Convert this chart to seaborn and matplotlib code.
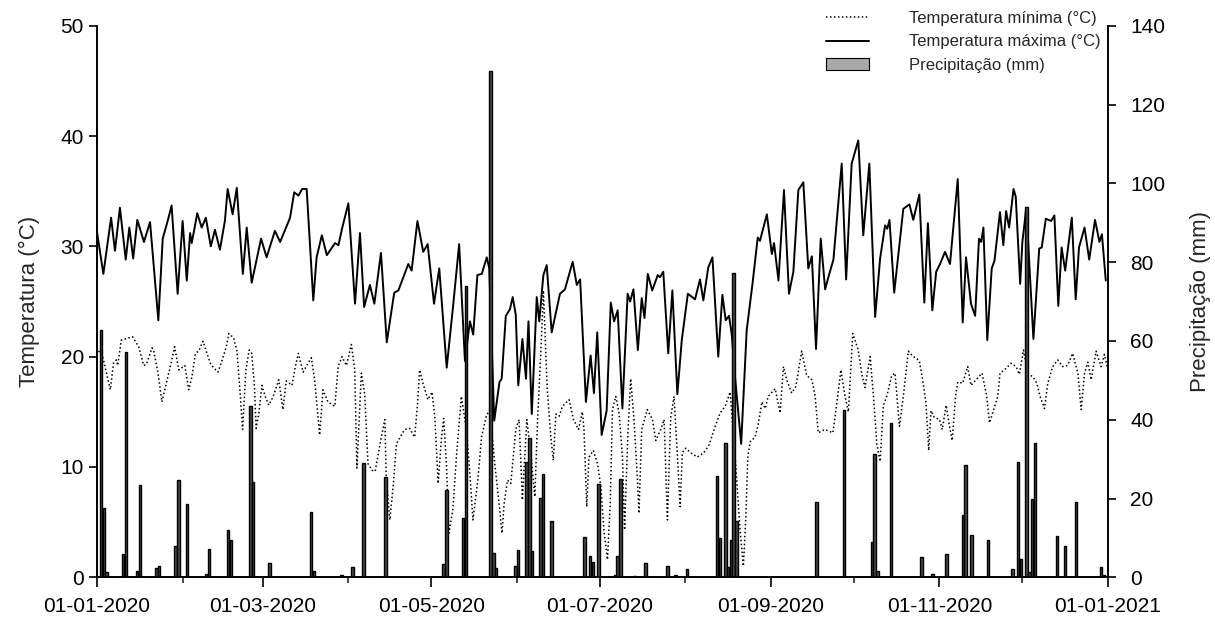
import pandas as pd
import matplotlib
matplotlib.use('Agg')
import matplotlib.pyplot as plt
import matplotlib.dates as mdates
from matplotlib.patches import Patch
from matplotlib.lines import Line2D
import seaborn as sns

# day offsets are counted from 01-01-2020
tmax_day = [0, 2.3, 5.1, 6.5, 8.3, 10.4, 11.7, 13.1, 14.6, 17.0, 19.2, 22.2, 23.8, 25.8, 27.0, 29.2,
            31.0, 32.5, 33.7, 34.3, 36.3, 37.9, 39.4, 41.2, 42.7, 44.5, 46.3, 47.3, 49.1, 50.6, 52.8,
            54.2, 56.0, 59.4, 61.4, 64.4, 66.3, 69.9, 71.4, 72.9, 74.3, 75.9, 78.3, 79.5, 81.4, 83.2,
            86.2, 87.4, 88.8, 91.0, 93.4, 95.2, 96.7, 98.8, 100.4, 102.8, 104.9, 107.6, 109.1, 112.7,
            113.9, 116.0, 118.1, 119.7, 122.0, 123.9, 126.6, 129.0, 131.1, 133.2, 135.0, 136.2, 137.7,
            139.3, 141.1, 142.0, 143.8, 145.7, 146.5, 148.0, 149.5, 150.5, 151.6, 152.5, 154.0, 155.3,
            156.2, 157.4, 159.2, 160.1, 161.6, 162.8, 164.6, 167.6, 169.4, 172.2, 173.7, 174.9, 177.0,
            178.7, 179.9, 181.1, 182.7, 184.5, 186.0, 187.2, 188.5, 190.2, 192.1, 193.0, 194.2, 195.8,
            197.2, 198.2, 199.4, 201.0, 203.0, 203.8, 205.0, 206.8, 208.3, 210.1, 211.7, 213.9, 216.5,
            218.3, 219.5, 221.3, 222.8, 224.9, 226.4, 227.6, 228.8, 229.8, 231.0, 233.2, 235.2, 237.3,
            239.2, 240.0, 242.5, 244.3, 245.1, 246.7, 248.7, 250.5, 252.1, 253.9, 255.7, 257.5, 258.8,
            260.3, 262.0, 263.6, 265.1, 266.6, 269.6, 271.2, 273.2, 275.6, 277.4, 279.6, 281.7, 283.5,
            285.3, 286.1, 286.9, 288.6, 291.9, 294.1, 295.5, 297.7, 299.5, 300.8, 302.4, 303.8, 305.2,
            307.0, 308.8, 311.6, 313.4, 314.6, 316.4, 317.9, 319.3, 320.1, 320.9, 322.3, 323.9, 324.9,
            326.9, 328.1, 329.1, 330.2, 331.8, 332.6, 334.2, 335.0, 335.7, 336.4, 339.0, 341.1, 342.0,
            343.5, 345.4, 346.6, 348.0, 349.2, 350.5, 352.9, 354.3, 355.5, 357.5, 359.2, 361.3, 362.9,
            363.8, 365.2]
tmax_val = [31.3, 27.5, 32.6, 29.6, 33.5, 28.8, 31.7, 28.9, 32.4, 30.4, 32.2, 23.3, 30.7, 32.5, 33.7, 25.7,
            32.3, 26.9, 31.2, 30.3, 33.0, 31.7, 32.6, 30.0, 31.5, 29.7, 32.3, 35.2, 32.9, 35.3, 27.5,
            31.7, 26.7, 30.7, 29.0, 31.4, 30.4, 32.6, 34.9, 34.6, 35.2, 35.2, 25.1, 29.0, 31.0, 29.2,
            30.3, 30.1, 31.7, 33.9, 24.8, 31.2, 24.5, 26.5, 24.8, 29.4, 21.3, 25.8, 26.0, 28.4,
            27.8, 32.3, 29.5, 30.2, 24.8, 28.0, 19.0, 24.8, 30.2, 19.6, 23.2, 22.0, 27.4,
            27.5, 29.0, 28.0, 14.2, 17.7, 18.0, 23.7, 24.3, 25.4, 23.8, 17.4, 21.6, 18.0,
            23.2, 14.8, 25.4, 23.2, 27.4, 28.3, 22.2, 25.7, 26.1, 28.6, 26.5, 27.0, 15.9,
            20.1, 16.7, 22.2, 12.9, 15.1, 24.9, 23.2, 24.2, 15.3, 25.7, 25.0, 26.1, 20.6,
            25.3, 23.5, 27.5, 26.0, 27.4, 27.2, 27.7, 20.3, 26.0, 16.6, 21.5, 25.7, 25.2,
            27.0, 25.1, 28.1, 29.0, 20.0, 25.6, 23.3, 23.7, 22.0, 18.1, 12.1, 22.4, 26.6,
            30.8, 30.5, 32.9, 29.3, 30.3, 26.9, 35.1, 25.7, 27.7, 35.1, 35.8, 28.0, 29.1,
            20.7, 30.7, 26.1, 27.5, 28.8, 37.5, 27.0, 37.5, 39.6, 31.0, 37.5, 23.6, 28.9,
            31.9, 31.6, 32.4, 25.8, 33.4, 33.8, 32.4, 34.7, 24.9, 32.1, 24.2, 27.7, 28.4,
            29.5, 28.4, 36.1, 23.1, 29.0, 24.8, 23.7, 30.7, 30.4, 31.7, 21.5, 28.0, 28.7,
            33.1, 30.1, 33.2, 31.7, 35.2, 34.5, 26.6, 30.4, 31.9, 33.5, 21.6, 29.8, 29.9,
            32.5, 32.3, 32.8, 24.6, 29.9, 27.8, 32.6, 25.2, 29.9, 31.7, 28.8, 32.4, 30.4,
            31.1, 26.9]

tmin_day = [0.5, 1.8, 4.8, 6.0, 7.0, 7.5, 8.8, 11.5, 12.9, 15.1, 16.9, 17.9, 19.9, 20.5, 22.1, 23.5,
            25.3, 26.9, 28.1, 29.6, 31.8, 33.2, 34.4, 35.6, 36.8, 38.4, 39.8, 41.0, 42.2, 43.8, 45.2,
            46.8, 47.7, 49.5, 50.0, 50.6, 51.9, 52.7, 53.9, 55.1, 56.0, 57.0, 57.6, 58.6, 59.7, 60.9,
            62.2, 63.8, 65.8, 67.3, 68.5, 70.6, 71.8, 72.9, 74.6, 76.4, 77.6, 78.8, 80.6, 81.8, 83.6,
            86.1, 87.3, 88.7, 90.3, 92.1, 93.3, 94.1, 95.7, 96.9, 98.1, 99.6, 100.7, 102.7, 104.2,
            104.7, 106.0, 107.2, 108.4, 110.2, 111.4, 113.2, 115.0, 116.0, 116.8, 118.0, 119.8, 121.3,
            122.3, 123.5, 124.7, 125.5, 126.5, 127.4, 128.8, 130.2, 131.9, 133.7, 134.9, 136.1, 137.9,
            139.2, 140.9, 142.2, 144.0, 145.8, 146.6, 147.4, 148.6, 149.8, 151.6, 152.8, 154.0, 155.6,
            157.1, 158.5, 159.5, 160.6, 161.6, 163.0, 164.3, 165.2, 166.1, 167.3, 168.5, 170.9, 172.5,
            174.3, 175.7, 176.3, 177.3, 178.1, 179.7, 181.2, 182.4, 183.6, 184.8, 185.8, 186.6, 187.8,
            189.0, 190.2, 191.0, 192.2, 193.2, 194.4, 195.6, 196.2, 197.2, 199.2, 201.1, 202.3, 204.1,
            205.3, 206.5, 207.7, 208.9, 210.1, 211.1, 211.9, 213.1, 214.9, 217.3, 219.7, 221.6, 223.8,
            225.6, 227.4, 229.2, 230.6, 231.6, 232.8, 234.0, 234.9, 235.6, 236.5, 238.2, 239.4, 240.7,
            241.9, 243.0, 245.5, 247.3, 248.5, 249.7, 251.5, 253.0, 255.1, 256.9, 258.8, 260.0, 261.1,
            263.5, 266.4, 267.8, 269.3, 270.8, 272.0, 273.6, 275.6, 276.8, 278.0, 279.9, 281.1, 282.3,
            283.5, 284.7, 285.9, 287.7, 288.9, 290.5, 291.9, 293.7, 295.5, 296.5, 297.7, 298.9, 300.1,
            301.1, 301.9, 303.1, 305.0, 306.0, 307.4, 308.6, 309.6, 310.8, 311.6, 313.4, 315.2, 316.4,
            318.2, 320.4, 322.1, 323.1, 324.5, 326.1, 326.9, 328.5, 330.9, 332.7, 333.9, 335.4, 337.0,
            338.8, 340.2, 341.4, 343.0, 344.2, 346.0, 347.8, 349.6, 351.4, 353.2, 355.1, 356.3, 357.5,
            358.7, 359.9, 361.7, 363.5, 364.7, 365.8]
tmin_val = [20.5, 20.3, 17.0, 19.4, 19.7, 19.2, 21.5, 21.7, 21.8, 20.9, 19.2, 19.3, 20.8, 20.6, 18.5, 15.9,
            17.8, 19.5, 20.9, 18.8, 19.2, 17.0, 18.2, 20.3, 20.5, 21.4, 20.3, 19.4, 19.0, 18.6, 19.6,
            20.9, 22.1, 21.7, 21.1, 20.7, 16.4, 13.4, 18.8, 20.6, 20.3, 17.3, 13.5, 14.9, 17.4, 16.4,
            15.6, 16.4, 17.9, 15.2, 17.8, 17.4, 19.1, 20.3, 18.6, 19.4, 19.9, 17.9, 12.9, 17.0, 15.9,
            15.5, 19.1, 20.0, 19.2, 21.1, 18.8, 9.9, 18.5, 16.6, 10.3, 9.7, 9.6, 12.4, 14.3,
            9.1, 5.2, 8.2, 12.1, 12.9, 13.4, 13.5, 12.7, 15.6, 18.8, 17.6, 16.1, 16.8,
            14.5, 8.5, 12.6, 14.4, 10.3, 4.0, 6.1, 11.2, 16.4, 13.5, 9.7, 5.2, 8.9,
            12.7, 14.6, 15.2, 10.3, 6.1, 4.0, 6.7, 8.8, 8.5, 13.4, 14.3, 7.0, 14.3,
            11.1, 7.3, 14.3, 20.0, 26.0, 17.0, 12.7, 10.6, 14.8, 14.6, 15.5, 16.1, 14.3,
            13.4, 15.0, 13.4, 6.4, 10.9, 11.5, 10.3, 8.2, 4.0, 1.6, 6.7, 15.2, 16.4,
            14.9, 11.0, 4.3, 13.1, 18.0, 14.3, 9.1, 5.8, 13.4, 15.2, 14.3, 12.4, 13.4,
            14.3, 5.2, 14.5, 16.4, 11.1, 6.4, 11.3, 11.7, 11.3, 10.9, 11.3, 12.0, 13.7,
            14.9, 15.5, 16.8, 12.3, 8.8, 4.3, 1.0, 5.5, 10.9, 12.3, 12.7, 13.9, 15.9,
            15.3, 16.4, 17.1, 14.9, 19.1, 17.9, 16.7, 17.3, 20.5, 18.3, 17.9, 16.4, 13.1,
            13.4, 13.1, 15.7, 18.8, 16.4, 15.0, 22.1, 20.6, 18.5, 17.2, 20.0, 16.4, 12.1,
            10.5, 15.6, 16.4, 18.3, 18.5, 13.7, 16.4, 20.5, 20.0, 19.9, 19.6, 17.9, 15.8,
            11.5, 15.1, 14.5, 14.3, 13.4, 15.6, 13.7, 12.4, 16.4, 17.7, 17.6, 19.1, 17.4,
            17.9, 18.5, 16.4, 14.0, 15.1, 16.4, 18.5, 18.8, 19.4, 19.1, 18.4, 20.6, 18.4,
            18.2, 17.6, 16.4, 15.3, 17.6, 19.1, 19.7, 19.1, 19.2, 20.3, 18.5, 15.2, 18.5,
            19.5, 17.9, 20.5, 19.1, 20.2, 19.0]

rain_day = [1, 2, 3, 9, 10, 14, 15, 21, 22, 28, 29, 32, 39, 40, 47, 48, 55, 56, 62, 77, 78, 88, 92, 96,
            104, 125, 126, 132, 133, 142, 143, 144, 151, 152, 155, 156, 157, 160, 161, 164, 176, 178,
            179, 181, 187, 188, 189, 194, 198, 206, 209, 213, 224, 225, 227, 228, 229, 230, 231, 260,
            270, 280, 281, 282, 287, 298, 302, 307, 313, 314, 316, 322, 331, 333, 334, 336, 337, 338,
            339, 347, 350, 354, 363, 364]
rain_mm = [62.8, 17.5, 1.4, 5.9, 57.3, 1.7, 23.3, 2.4, 2.9, 7.9, 24.7, 18.6, 0.8, 7.2, 12.0, 9.5, 43.6,
           24.1, 3.6, 16.7, 1.7, 0.6, 2.5, 28.9, 25.5, 3.3, 22.2, 15.0, 74.0, 128.5, 6.2, 2.3, 2.9, 6.9,
           29.3, 35.3, 6.7, 20.2, 26.1, 14.4, 10.2, 5.5, 4.0, 23.7, 0.6, 5.5, 24.9, 0.4, 3.7, 2.9, 0.7,
           2.0, 25.7, 9.9, 34.0, 2.5, 9.5, 77.2, 14.4, 19.2, 42.5, 9.0, 31.4, 1.6, 39.1, 5.2, 0.8, 6.0,
           15.7, 28.5, 10.7, 9.5, 2.0, 29.2, 4.6, 94.1, 1.4, 19.9, 34.0, 10.5, 7.9, 19.0, 2.5, 0.6]

start = pd.Timestamp('2020-01-01')
tmax = pd.DataFrame({'data': start + pd.to_timedelta(tmax_day, unit='D'), 'temp': tmax_val})
tmin = pd.DataFrame({'data': start + pd.to_timedelta(tmin_day, unit='D'), 'temp': tmin_val})
rain_dates = start + pd.to_timedelta([d + 0.5 for d in rain_day], unit='D')

sns.set_style('ticks')
plt.rcParams['font.family'] = ['Liberation Sans', 'DejaVu Sans']

fig = plt.figure(figsize=(12.15, 6.19), dpi=100)
ax = fig.add_axes([97 / 1215, 1 - 577.3 / 619, (1108 - 97) / 1215, (577.3 - 25.7) / 619])
ax2 = ax.twinx()

sns.lineplot(data=tmin, x='data', y='temp', ax=ax, color='black', linewidth=1.1,
             linestyle=(0, (1, 1.6)), estimator=None, sort=False)
sns.lineplot(data=tmax, x='data', y='temp', ax=ax, color='black', linewidth=1.4,
             estimator=None, sort=False)
ax2.bar(rain_dates, rain_mm, width=0.9, color='#4a4a4a', edgecolor='black', linewidth=1.0)

ax.set_xlim(start, pd.Timestamp('2021-01-01'))
ax.set_ylim(0, 50)
ax2.set_ylim(0, 140)
ax.set_yticks(range(0, 51, 10))
ax2.set_yticks(range(0, 141, 20))

ax.xaxis.set_major_locator(mdates.MonthLocator(bymonth=[1, 3, 5, 7, 9, 11]))
ax.xaxis.set_minor_locator(mdates.MonthLocator())
ax.xaxis.set_major_formatter(mdates.DateFormatter('%d-%m-%Y'))

for a in (ax, ax2):
    a.spines['top'].set_visible(False)
    for s in a.spines.values():
        s.set_linewidth(1.2)
        s.set_color('black')
    a.tick_params(axis='both', which='major', length=6, width=1.2, labelsize=15, colors='black')
    a.tick_params(axis='x', which='major', length=7, pad=7)
    a.tick_params(axis='x', which='minor', length=4.5, width=1.2)
ax2.tick_params(axis='y', which='major', pad=10)

ax.set_xlabel('')
ax.set_ylabel('Temperatura (°C)', fontsize=16, labelpad=15)
ax2.set_ylabel('Precipitação (mm)', fontsize=16, labelpad=18)

handles = [
    Line2D([], [], color='black', linewidth=1.1, linestyle=(0, (1, 1.6))),
    Line2D([], [], color='black', linewidth=1.4),
    Patch(facecolor='#a8a8a8', edgecolor='black', linewidth=0.8),
]
labels = ['Temperatura mínima (°C)', 'Temperatura máxima (°C)', 'Precipitação (mm)']
fig.legend(handles, labels, loc='upper right', bbox_to_anchor=(1101 / 1215, 1 - 11 / 619),
           frameon=False, fontsize=12, handlelength=2.6, handletextpad=2.4,
           labelspacing=0.5, borderpad=0, borderaxespad=0)

fig.savefig('out.png', dpi=100)
plt.close(fig)
